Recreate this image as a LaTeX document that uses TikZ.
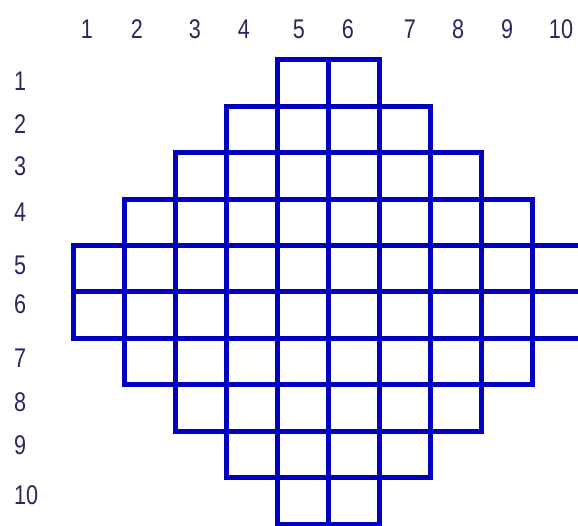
\documentclass[tikz,border=0pt]{standalone}
\usepackage{fontspec}
\setmainfont{Liberation Sans}
\newfontfamily\narrowsans[FakeStretch=0.8]{Liberation Sans}
\definecolor{gridblue}{RGB}{0,0,190}
\definecolor{labelnavy}{RGB}{40,40,95}
\begin{document}
\begin{tikzpicture}[x=1pt,y=-1pt,
  cell/.style={draw=gridblue,line width=5pt},
  lbl/.style={font=\narrowsans\fontsize{27}{27}\selectfont,text=labelnavy,inner sep=0pt}]
  \useasboundingbox (0,0) rectangle (578,526);
  \clip (0,0) rectangle (578,526);
  % cells of each row, from first to last column
  \foreach \r/\a/\b in {1/5/6,2/4/7,3/3/8,4/2/9,5/1/10,6/1/10,7/2/9,8/3/8,9/4/7,10/5/6}
    \foreach \c in {\a,...,\b}
      \draw[cell] ({73+51*(\c-1)},{60+46.4*(\r-1)}) rectangle ++(51,46.4);
  % column numbers
  \foreach \i/\x in {1/87,2/137,3/195,4/244,5/299,6/348,7/410,8/458,9/507,10/561}
    \node[lbl] (col\i) at (\x,29) {\i};
  % row numbers
  \foreach \i/\y in {1/81,2/124,3/166,4/212,5/265,6/304,7/358,8/402,9/445,10/495}
    \node[lbl,anchor=west] (row\i) at (14,\y) {\i};
\end{tikzpicture}
\end{document}
